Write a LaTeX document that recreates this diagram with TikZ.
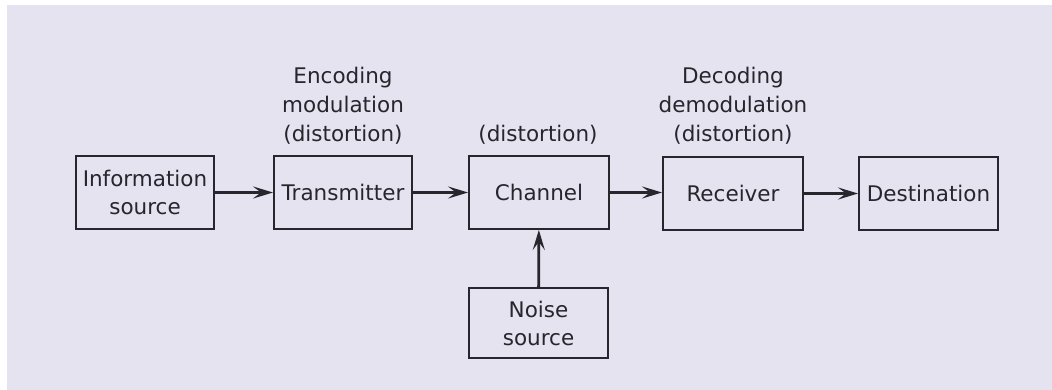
\documentclass[tikz,border=0pt]{standalone}
\usepackage{fontspec}
\setmainfont{DejaVu Sans}
\usetikzlibrary{arrows.meta}
\definecolor{paper}{RGB}{229,227,240}
\definecolor{ink}{RGB}{38,38,44}
\tikzset{
  blk/.style={draw=ink, line width=1.9pt, minimum width=#1, minimum height=73pt, inner sep=0pt, align=center, text=ink, font=\fontsize{21.5}{28}\selectfont},
  blk/.default=139pt,
  lbl/.style={align=center, text=ink, font=\fontsize{21.5}{29}\selectfont, inner sep=0pt},
  flow/.style={draw=ink, line width=2.8pt, -{Stealth[length=20pt, width=12pt, inset=8pt]}}
}
\begin{document}
\begin{tikzpicture}[x=1pt,y=-1pt]
\useasboundingbox (0,0) rectangle (1052,390);
\fill[white] (0,0) rectangle (1052,390);
\fill[paper] (7,5) rectangle (1052,390);
\node[blk=138pt] (info) at (145,192.5) {Information\\source};
\node[blk=138pt] (tx) at (343,192.5) {Transmitter};
\node[blk=140pt] (ch) at (539,192.5) {Channel};
\node[blk=140pt] (rx) at (733,193.5) {Receiver};
\node[blk=139pt] (dst) at (928.5,193.5) {Destination};
\node[blk=139pt, minimum height=70pt] (noise) at (538.5,323) {Noise\\source};
\node[lbl, anchor=south] (txl) at (343,145) {Encoding\\modulation\\(distortion)};
\node[lbl, anchor=south] (chl) at (538,145) {(distortion)};
\node[lbl, anchor=south] (rxl) at (733,145) {Decoding\\demodulation\\(distortion)};
\draw[flow] (info) -- (tx);
\draw[flow] (tx) -- (ch);
\draw[flow] (ch.east) -- (rx.west |- ch.east);
\draw[flow] (rx.east |- dst.west) -- (dst.west);
\draw[flow] (noise) -- (ch);
\end{tikzpicture}
\end{document}
